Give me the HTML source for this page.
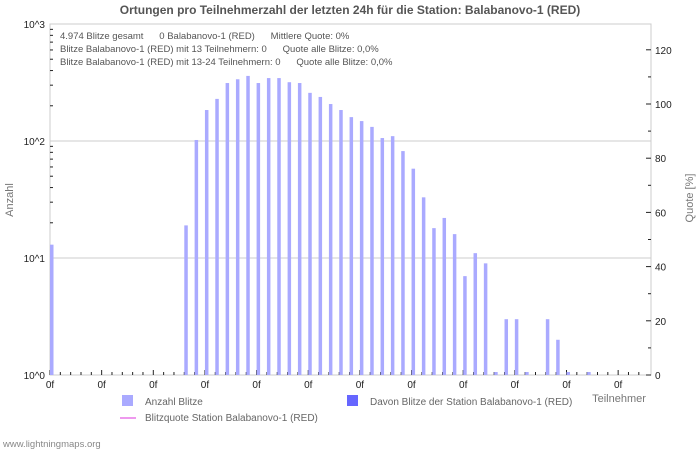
<!DOCTYPE html>
<html><head><meta charset="utf-8"><style>
body{margin:0;background:#fff;}
svg{display:block;font-family:"Liberation Sans","DejaVu Sans",sans-serif;}
</style></head><body>
<svg id="c" width="700" height="450"></svg>
<script>
const counts=[13,0,0,0,0,0,0,0,0,0,0,0,0,19,102,184,229,313,337,360,313,345,345,318,313,258,238,207,184,160,148,132,106,110,82,58,33,18,22,16,7,11,9,1,3,3,1,0,3,2,1,0,1,0,0,0,0,0];
const yTicks=[0,1,2,3];
const yTickLabels=["10^0","10^1","10^2","10^3"];
const quoteTicks=[0,20,40,60,80,100,120];
const xLabelEvery=5;

const NS="http://www.w3.org/2000/svg";
const svg=document.getElementById('c');
const L=50,R=651,T=24,B=375;
const nSlots=58, slotW=10.33;
function xs(i){return 51.5+i*slotW;}
function ys(v){return B-117*Math.log10(v);}
function yq(q){return B-q*(B-104)/100;}
function mk(tag,a,parent){const e=document.createElementNS(NS,tag);for(const k in a)e.setAttribute(k,a[k]);(parent||svg).appendChild(e);return e;}
function tx(x,y,s,a){const e=mk('text',Object.assign({x:x,y:y},a));e.textContent=s;return e;}

let t=tx(350,14,"Ortungen pro Teilnehmerzahl der letzten 24h für die Station: Balabanovo-1 (RED)",{"text-anchor":"middle","font-size":"12","font-weight":"bold",fill:"#555"});


mk('rect',{x:L,y:T,width:R-L,height:B-T,fill:"none",stroke:"#ccc"});
yTicks.forEach((d,i)=>{
  const y=ys(Math.pow(10,d));
  if(d>0&&d<3){const g=mk('line',{x1:L,x2:R,y1:y,y2:y,stroke:"#ccc"});}
  const lb=tx(45,y+4,yTickLabels[i],{"text-anchor":"end","font-size":"10",fill:"#222"});
  
  if(d<3){for(let m=2;m<=9;m++){const yy=ys(m*Math.pow(10,d));mk('line',{x1:L,x2:L+3,y1:yy,y2:yy,stroke:"#222"});}}
});
quoteTicks.forEach(q=>{
  const y=yq(q);
  mk('line',{x1:R-5,x2:R,y1:y,y2:y,stroke:"#222"});
  if(q<120){const y2=yq(q+10);mk('line',{x1:R-3,x2:R,y1:y2,y2:y2,stroke:"#222"});}
  const lb=tx(655,y+4,String(q),{"font-size":"10",fill:"#222"});
  
});
for(let i=0;i<nSlots;i++){
  const x=xs(i)-1.5;
  const major=i%xLabelEvery===0;
  mk('line',{x1:x,x2:x,y1:B,y2:B-(major?5:3),stroke:"#222"});
  if(major){const lb=tx(x,B+13,"0f",{"text-anchor":"middle","font-size":"10",fill:"#222"});
    }
}
counts.forEach((v,i)=>{
  if(v<=0)return;
  let y=ys(v); if(B-y<3)y=B-3;
  const r=mk('rect',{x:xs(i)-1.5,y:y,width:3.5,height:B-y,fill:"#aaaaff"});
  
});
const info=["4.974 Blitze gesamt      0 Balabanovo-1 (RED)      Mittlere Quote: 0%","Blitze Balabanovo-1 (RED) mit 13 Teilnehmern: 0      Quote alle Blitze: 0,0%","Blitze Balabanovo-1 (RED) mit 13-24 Teilnehmern: 0      Quote alle Blitze: 0,0%"];
info.forEach((s,i)=>{const e=tx(60,39+i*13,s,{"font-size":"9.5",fill:"#555","xml:space":"preserve"});e.style.whiteSpace="pre";
  });
let a=tx(13,200,"Anzahl",{"text-anchor":"middle","font-size":"11",fill:"#777",transform:"rotate(-90 13 200)"});

a=tx(693,198,"Quote [%]",{"text-anchor":"middle","font-size":"11",fill:"#777",transform:"rotate(-90 693 198)"});

a=tx(619,402,"Teilnehmer",{"text-anchor":"middle","font-size":"11",fill:"#777"});

let g=mk('g',{});
mk('rect',{x:122,y:395,width:11,height:11,fill:"#aaaaff"},g);tx(145,405,"Anzahl Blitze",{"font-size":"10",fill:"#666"}).parentNode;g.appendChild(svg.lastChild);
g=mk('g',{});
mk('rect',{x:347,y:395,width:11,height:11,fill:"#6666ff"},g);tx(370,405,"Davon Blitze der Station Balabanovo-1 (RED)",{"font-size":"10",fill:"#666"});g.appendChild(svg.lastChild);
g=mk('g',{});
mk('line',{x1:120,x2:136,y1:418,y2:418,stroke:"#ee99ee","stroke-width":2},g);tx(145,421,"Blitzquote Station Balabanovo-1 (RED)",{"font-size":"10",fill:"#666"});g.appendChild(svg.lastChild);
a=tx(3,447,"www.lightningmaps.org",{"font-size":"9.5",fill:"#888"});

</script>
</body></html>
